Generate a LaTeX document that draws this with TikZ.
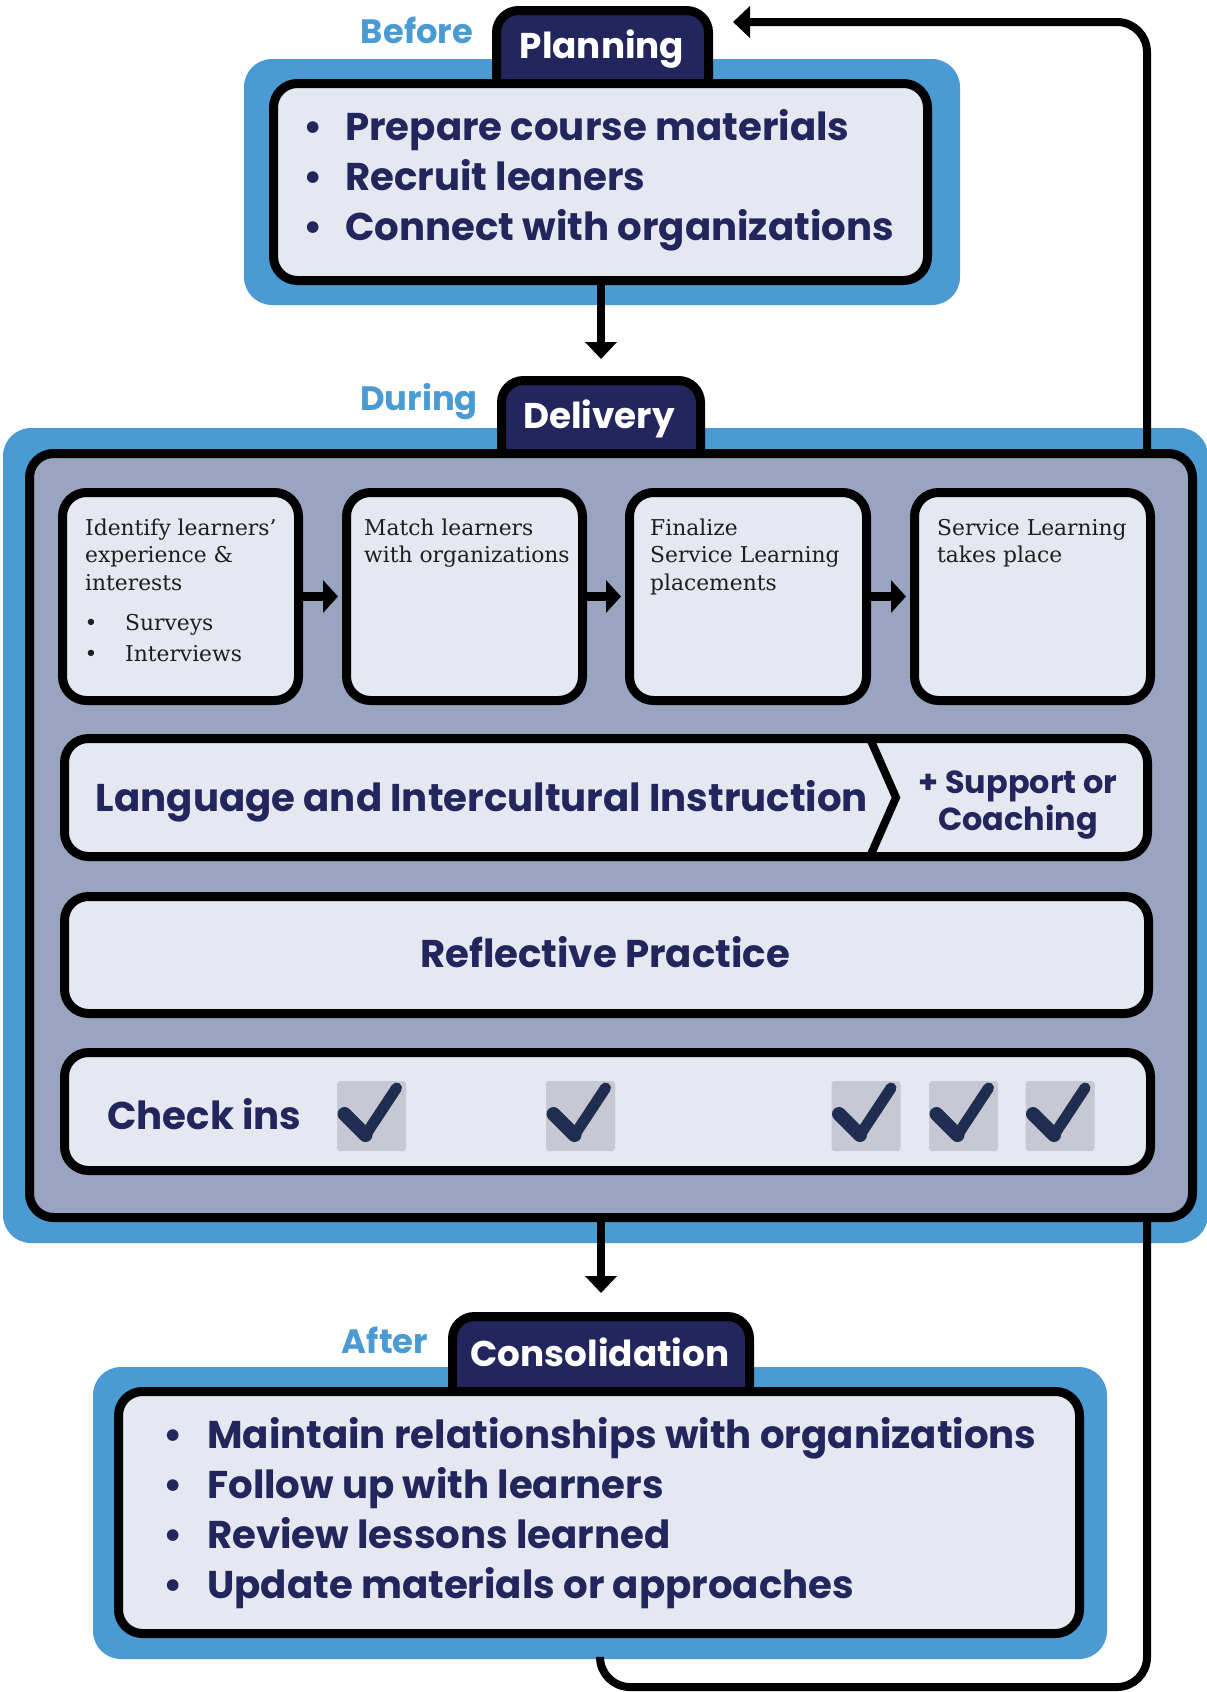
\documentclass[tikz,border=0pt]{standalone}
\usepackage{fontspec}
\newfontfamily\pop{Poppins}
\newfontfamily\slab{DejaVu Serif}
\usetikzlibrary{arrows.meta}
\definecolor{skyblue}{HTML}{4A9AD4}
\definecolor{navy}{HTML}{22265C}
\definecolor{paper}{HTML}{E5E8F0}
\definecolor{slate}{HTML}{98A4C0}
\definecolor{ticknavy}{HTML}{1F2D50}
\definecolor{tickbg}{HTML}{C6C8D4}
\definecolor{ink}{HTML}{1E1E1E}
\pgfdeclarelayer{back}
\pgfdeclarelayer{wires}
\pgfsetlayers{back,wires,main}

\begin{document}
\begin{tikzpicture}[x=1pt,y=-1pt,
  halo/.style={fill=skyblue, rounded corners=28pt, inner sep=0pt, outer sep=0pt},
  panel/.style={draw=black, line width=9pt, fill=paper, rounded corners=24pt, inner sep=0pt},
  tabbox/.style={draw=black, line width=9pt, fill=navy, rounded corners=22pt, inner sep=0pt},
  tablabel/.style={text=white, inner sep=0pt, font=\pop\bfseries\fontsize{35.8pt}{40pt}\selectfont},
  phase/.style={text=skyblue, inner sep=0pt, font=\pop\bfseries\fontsize{33.8pt}{40pt}\selectfont},
  bigtxt/.style={text=navy, inner sep=0pt, font=\pop\bfseries\fontsize{38.7pt}{44pt}\selectfont},
  midtxt/.style={text=navy, inner sep=0pt, font=\pop\bfseries\fontsize{31.9pt}{38pt}\selectfont},
  smalltxt/.style={text=ink, inner sep=0pt, font=\slab\fontsize{21.8pt}{26pt}\selectfont},
  wire/.style={line width=8pt, -{Triangle[length=17pt,width=31pt]}},
  hop/.style={line width=9pt, -{Triangle[length=15pt,width=32pt]}, shorten >=4pt},
  tick/.pic={
    \fill[tickbg, rounded corners=3pt] (-34.5,-35) rectangle (34.5,35);
    \draw[ticknavy, line width=14pt, line cap=round] (-27,-2) -- (-6,19);
    \draw[ticknavy, line width=11pt, line cap=round, line join=round] (-6,19) -- (25,-28);
  }
]
\useasboundingbox (0,0) rectangle (1207,1692);

% light blue surrounds of the three phases
\begin{pgfonlayer}{back}
  \node[halo, minimum width=716pt, minimum height=246pt] (phalo) at (602,182) {};
  \node[halo, minimum width=1205pt, minimum height=815pt] (dhalo) at (605.5,835.5) {};
  \node[halo, minimum width=1014pt, minimum height=292pt] (chalo) at (600,1513) {};
\end{pgfonlayer}

% tabs (their lower part is hidden by the panels)
\node[tabbox, minimum width=212pt, minimum height=140pt] (ptab) at (602.5,80.5) {};
\node[tabbox, minimum width=199pt, minimum height=140pt] (dtab) at (601,450.5) {};
\node[tabbox, minimum width=297pt, minimum height=140pt] (ctab) at (601,1386.5) {};

% main panels
\node[panel, minimum width=654pt, minimum height=197pt] (plan) at (600.5,182) {};
\node[panel, fill=slate, minimum width=1163pt, minimum height=764pt] (deliv) at (611,835.5) {};
\node[panel, minimum width=961pt, minimum height=242pt] (cons) at (599,1512.5) {};

% tab and phase labels
\node[tablabel, anchor=base] (ptabtxt) at (602,58) {Planning};
\node[tablabel, anchor=base] (dtabtxt) at (599,428) {Delivery};
\node[tablabel, anchor=base] (ctabtxt) at (600,1366) {Consolidation};
\node[phase, anchor=base] (before) at (417,43) {Before};
\node[phase, anchor=base] (during) at (419,410) {During};
\node[phase, anchor=base] (after) at (385,1353) {After};

% planning items
\foreach \t [count=\i] in {Prepare course materials, Recruit leaners, Connect with organizations} {
  \node[bigtxt, anchor=base] (pdot\i) at (313,{140+50*(\i-1)}) {•};
  \node[bigtxt, anchor=base west] (pitem\i) at (345,{140+50*(\i-1)}) {\t};
}

% delivery steps
\node[panel, minimum width=236pt, minimum height=208pt] (b1) at (180.5,596.5) {};
\node[panel, minimum width=236pt, minimum height=208pt] (b2) at (464.5,596.5) {};
\node[panel, minimum width=237pt, minimum height=208pt] (b3) at (748,596.5) {};
\node[panel, minimum width=236pt, minimum height=208pt] (b4) at (1032.5,596.5) {};
\draw[hop] (b1) -- (b2);
\draw[hop] (b2) -- (b3);
\draw[hop] (b3) -- (b4);

\foreach \t [count=\i] in {Identify learners’, experience \&, interests}
  \node[smalltxt, anchor=base west] (s1l\i) at (85,{535+27.5*(\i-1)}) {\t};
\node[smalltxt, anchor=base] (s1d1) at (91,630) {•};
\node[smalltxt, anchor=base west] (s1b1) at (125,630) {Surveys};
\node[smalltxt, anchor=base] (s1d2) at (91,661) {•};
\node[smalltxt, anchor=base west] (s1b2) at (125,661) {Interviews};
\foreach \t [count=\i] in {Match learners, with organizations}
  \node[smalltxt, anchor=base west] (s2l\i) at (364,{535+27.5*(\i-1)}) {\t};
\foreach \t [count=\i] in {Finalize, Service Learning, placements}
  \node[smalltxt, anchor=base west] (s3l\i) at (650,{535+27.5*(\i-1)}) {\t};
\foreach \t [count=\i] in {Service Learning, takes place}
  \node[smalltxt, anchor=base west] (s4l\i) at (937,{535+27.5*(\i-1)}) {\t};

% instruction band with its chevron divider
\node[panel, minimum width=1083pt, minimum height=118pt] (lang) at (606,797.5) {};
\draw[line width=8pt] (870,738.5) -- (896,797.5) -- (870,856.5);
\node[bigtxt, anchor=base] (langtxt) at (482,811) {Language and Intercultural Instruction};
\node[midtxt, anchor=base] (sup1) at (1018,793) {+ Support or};
\node[midtxt, anchor=base] (sup2) at (1018,830) {Coaching};

% reflective practice band
\node[panel, minimum width=1084pt, minimum height=117pt] (refl) at (606.5,955) {};
\node[bigtxt, anchor=base] (refltxt) at (605,967) {Reflective Practice};

% check-in band
\node[panel, minimum width=1086pt, minimum height=118pt] (chk) at (607.5,1111.5) {};
\node[bigtxt, anchor=base west] (chktxt) at (107,1129) {Check ins};
\pic at (371.5,1116) {tick};
\pic at (580.5,1116) {tick};
\pic at (866,1116) {tick};
\pic at (963.5,1116) {tick};
\pic at (1060,1116) {tick};

% consolidation items
\foreach \t [count=\i] in {Maintain relationships with organizations, Follow up with learners, Review lessons learned, Update materials or approaches} {
  \node[bigtxt, anchor=base] (cdot\i) at (173,{1448+50*(\i-1)}) {•};
  \node[bigtxt, anchor=base west] (citem\i) at (207,{1448+50*(\i-1)}) {\t};
}

% connectors between phases and the feedback loop
\coordinate (loopend) at (733,22);
\coordinate (loopcorner) at (1147,1687);
\begin{pgfonlayer}{wires}
  \draw[wire, shorten >=17pt] (dtab.north |- plan.south) -- (dtab.north);
  \draw[wire, shorten >=19pt] (ctab.north |- deliv.south) -- (ctab.north);
  \draw[wire, rounded corners=30pt] (chalo.south) |- (loopcorner) |- (loopend);
\end{pgfonlayer}
\end{tikzpicture}
\end{document}
